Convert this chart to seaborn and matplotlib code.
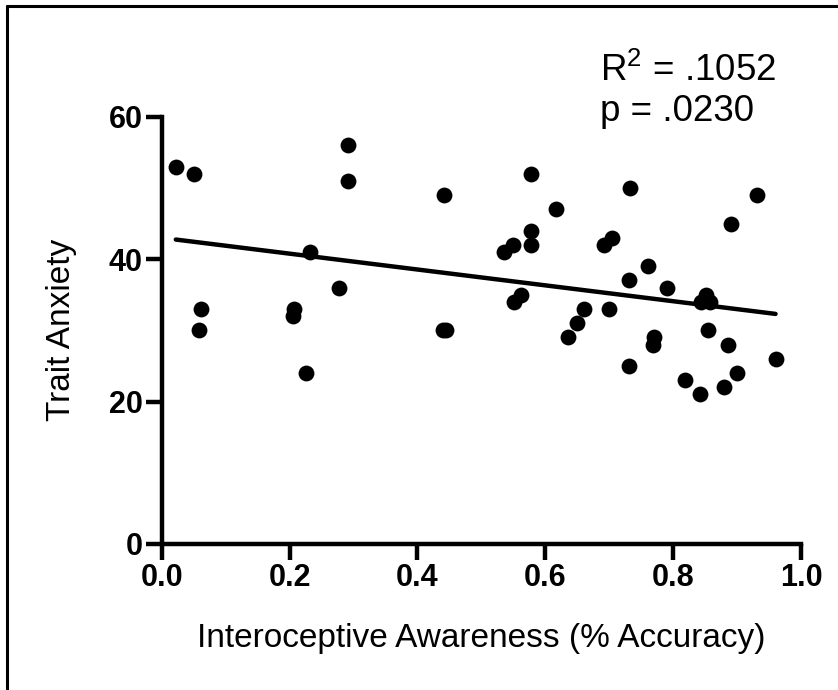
import matplotlib

matplotlib.use("Agg")
import matplotlib.pyplot as plt
import numpy as np
import pandas as pd
import seaborn as sns
from matplotlib.lines import Line2D

# Interoceptive accuracy (fraction) vs trait anxiety score
accuracy = [
    0.022, 0.051, 0.292, 0.292, 0.441, 0.232, 0.277, 0.061, 0.059, 0.207,
    0.205, 0.225, 0.440, 0.445, 0.578, 0.617, 0.732, 0.931, 0.891, 0.577,
    0.578, 0.550, 0.535, 0.704, 0.691, 0.760, 0.731, 0.791, 0.5625, 0.551,
    0.852, 0.843, 0.857, 0.661, 0.700, 0.649, 0.636, 0.855, 0.770, 0.769,
    0.886, 0.960, 0.731, 0.900, 0.819, 0.880, 0.842,
]
anxiety = [
    53, 52, 56, 51, 49, 41, 36, 33, 30, 33,
    32, 24, 30, 30, 52, 47, 50, 49, 45, 44,
    42, 42, 41, 43, 42, 39, 37, 36, 35, 34,
    35, 34, 34, 33, 33, 31, 29, 30, 29, 28,
    28, 26, 25, 24, 23, 22, 21,
]
x_ticks = [0.0, 0.2, 0.4, 0.6, 0.8, 1.0]
y_ticks = [0, 20, 40, 60]
stats_text = ["$\\mathrm{R^{2}}$ = .1052", "p = .0230"]

sns.set_style("white")
plt.rcParams["font.family"] = ["Liberation Sans", "DejaVu Sans"]
plt.rcParams["mathtext.fontset"] = "custom"
plt.rcParams["mathtext.rm"] = "Liberation Sans"
plt.rcParams["text.color"] = "black"
plt.rcParams["axes.labelcolor"] = "black"
plt.rcParams["xtick.color"] = "black"
plt.rcParams["ytick.color"] = "black"

df = pd.DataFrame({"acc": accuracy, "anx": anxiety})

fig = plt.figure(figsize=(8.38, 6.9), dpi=100)
ax = fig.add_axes([0.193, 0.2116, 0.763, 0.6193])

sns.regplot(
    data=df,
    x="acc",
    y="anx",
    ci=None,
    ax=ax,
    scatter_kws={"s": 130, "color": "black", "alpha": 1, "linewidths": 0, "clip_on": False},
    line_kws={"color": "black", "linewidth": 3.2},
)

ax.set_xlim(0, 1.0)
ax.set_ylim(0, 60)
ax.set_xticks(x_ticks)
ax.set_xticklabels([f"{t:.1f}" for t in x_ticks])
ax.set_yticks(y_ticks)

for side in ["top", "right"]:
    ax.spines[side].set_visible(False)
for side in ["left", "bottom"]:
    ax.spines[side].set_linewidth(3.2)
    ax.spines[side].set_color("black")
    ax.spines[side].set_capstyle("projecting")

ax.tick_params(axis="both", which="major", bottom=True, left=True, direction="out",
               length=11.5, width=3.2, color="black", pad=2)
for lab in ax.get_xticklabels() + ax.get_yticklabels():
    lab.set_fontweight("bold")
    lab.set_fontsize(22)

ax.set_xlabel("Interoceptive Awareness (% Accuracy)", fontsize=24, labelpad=22)
ax.set_ylabel("Trait Anxiety", fontsize=24, labelpad=23)

fig.text(0.716, 0.882, stats_text[0], fontsize=26.5, ha="left", va="baseline")
fig.text(0.716, 0.824, stats_text[1], fontsize=26.5, ha="left", va="baseline")

# partial frame around the figure (top and left edges)
fig.add_artist(Line2D([0.0085, 1.0], [0.9915, 0.9915], color="black", linewidth=2.2, transform=fig.transFigure))
fig.add_artist(Line2D([0.0085, 0.0085], [0.0, 0.9915], color="black", linewidth=2.2, transform=fig.transFigure))

plt.savefig("out.png", dpi=100)
plt.close()
